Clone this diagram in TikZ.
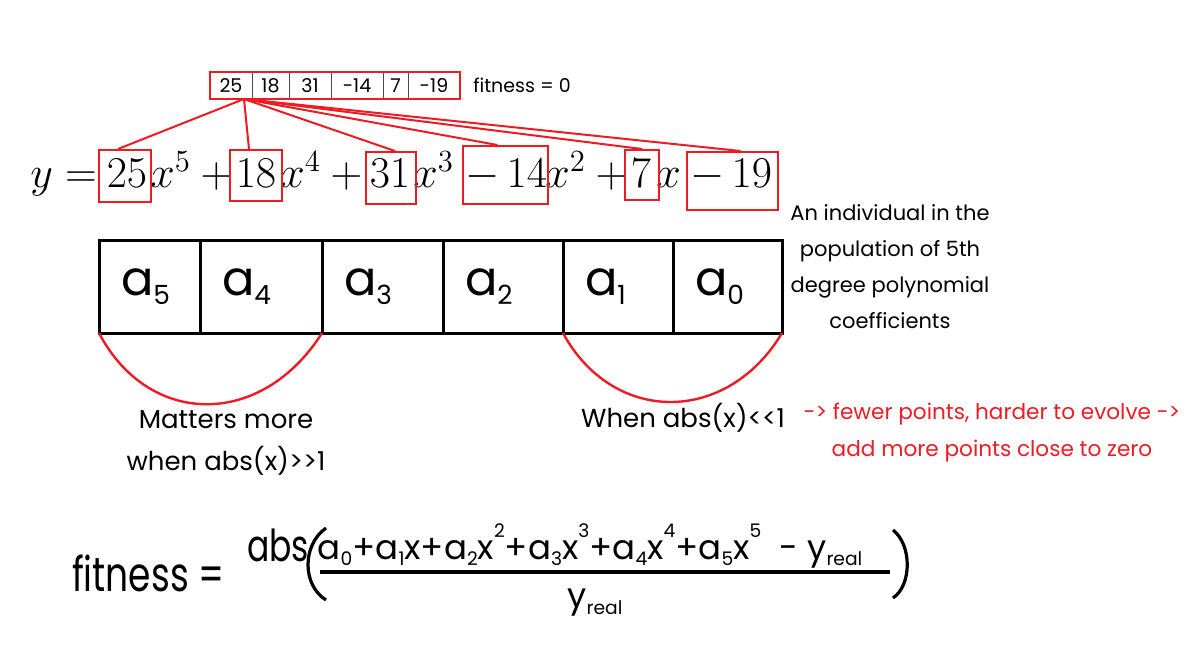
\RequirePackage{fix-cm}
\documentclass[tikz,border=0pt]{standalone}
\usepackage{fontspec}
\newfontfamily\hand{Poppins}
\newfontfamily\handnarrow{Poppins}[FakeStretch=0.75]
\usetikzlibrary{positioning, fit}
\definecolor{paintred}{RGB}{237,28,36}
\newcommand\subdig[1]{\raisebox{-0.35ex}{\scalebox{0.55}{#1}}}
\newcommand\supdig[1]{\raisebox{1.15ex}{\scalebox{0.55}{#1}}}

\begin{document}
\begin{tikzpicture}[
  x=0.5pt, y=-0.5pt,
  topcell/.style={draw=black!70, line width=0.4pt, outer sep=0pt, minimum height=13.5pt, inner sep=0pt, font=\hand\fontsize{9.5}{10}\selectfont},
  coefbox/.style={draw=paintred, line width=1pt, inner sep=0pt},
  eqtext/.style={anchor=base, inner sep=0pt, font=\fontsize{22}{26}\selectfont},
  gridcell/.style={draw, line width=1.5pt, outer sep=0pt, minimum height=46.5pt, inner xsep=11pt, align=left, font=\hand\fontsize{24}{26}\selectfont},
  note/.style={align=center, font=\hand\fontsize{10.5}{18}\selectfont},
  redline/.style={draw=paintred, line width=1pt},
  bracearc/.style={draw=paintred, line width=1.2pt},
  penline/.style={line width=1.6pt}
]
\useasboundingbox (0,0) rectangle (1204,654);

% Chromosome on top
\node[topcell, minimum width=21pt, anchor=north west] (t25) at (210,72) {25};
\node[topcell, minimum width=18.5pt, right=0pt of t25] (t18) {18};
\node[topcell, minimum width=21pt, right=0pt of t18] (t31) {31};
\node[topcell, minimum width=26pt, right=0pt of t31] (t14) {-14};
\node[topcell, minimum width=12.5pt, right=0pt of t14] (t7) {7};
\node[topcell, minimum width=26pt, right=0pt of t7] (t19) {-19};
\node[draw=paintred, line width=1pt, inner sep=0pt, fit=(t25)(t19)] (tbox) {};
\node[right=6pt of tbox, inner sep=0pt, font=\hand\fontsize{9.5}{10}\selectfont] (tfit) {fitness = 0};

% Polynomial
\node[eqtext, anchor=base west] (ylhs) at (30,187) {$y =$};
\node[eqtext] (e25) at (127,187) {$25$};
\node[eqtext, anchor=base west] (p5) at (150,187) {$x^5 + {}$};
\node[eqtext] (e18) at (256,187) {$18$};
\node[eqtext, anchor=base west] (p4) at (280,187) {$x^4 + {}$};
\node[eqtext] (e31) at (390,187) {$31$};
\node[eqtext, anchor=base west] (p3) at (413,187) {$x^3$};
\node[eqtext] (e14) at (506,187) {$-\,14$};
\node[eqtext, anchor=base west] (p2) at (545,187) {$x^2 + {}$};
\node[eqtext] (e7) at (641,187) {$7$};
\node[eqtext, anchor=base west] (p1) at (656,187) {$x$};
\node[eqtext] (e19) at (731,187) {$-\,19$};

\node[coefbox, minimum width=26pt, minimum height=26pt] (b25) at (125,176) {};
\node[coefbox, minimum width=26pt, minimum height=25.5pt] (b18) at (256,175.5) {};
\node[coefbox, minimum width=25pt, minimum height=26pt] (b31) at (391,178) {};
\node[coefbox, minimum width=42.5pt, minimum height=29pt] (b14) at (505.5,175) {};
\node[coefbox, minimum width=17pt, minimum height=25pt] (b7) at (642,175) {};
\node[coefbox, minimum width=45.5pt, minimum height=29pt] (b19) at (732.5,181) {};

\coordinate (src) at ([xshift=-4pt]t25.south east);
\foreach \b/\dx in {b25/-3.5, b18/-3.5, b31/2, b14/-4, b7/0, b19/4} {
  \draw[redline] (src) -- ([xshift=\dx pt]\b.north);
}

% Coefficient grid
\node[gridcell, text width=28.5pt, anchor=north west] (g5) at (99,240) {a\subdig{5}};
\node[gridcell, text width=39pt, right=0pt of g5] (g4) {a\subdig{4}};
\node[gridcell, text width=38.5pt, right=0pt of g4] (g3) {a\subdig{3}};
\node[gridcell, text width=38pt, right=0pt of g3] (g2) {a\subdig{2}};
\node[gridcell, text width=33pt, right=0pt of g2] (g1) {a\subdig{1}};
\node[gridcell, text width=32.5pt, right=0pt of g1] (g0) {a\subdig{0}};

\node[note] (desc) at (890,267) {An individual in the\\population of 5th\\degree polynomial\\coefficients};

\draw[bracearc] (g5.south west) .. controls +(50,95) and +(-60,95) .. (g4.south east);
\draw[bracearc] (g1.south west) .. controls +(50,92) and +(-55,92) .. (g0.south east);

\node[align=center, font=\hand\fontsize{13}{21}\selectfont] (matters) at (226,443) {Matters more\\when abs(x)>>1};
\node[font=\hand\fontsize{13}{15}\selectfont] (whenlt) at (683,418) {When abs(x)<<1};
\node[align=center, text=paintred, font=\hand\fontsize{10.8}{18.5}\selectfont] (advice) at (992,433) {-> fewer points, harder to evolve ->\\add more points close to zero};

% Fitness formula
\node[anchor=west, font=\handnarrow\fontsize{24}{26}\selectfont] (fitl) at (65,573) {fitness =};
\node[font=\handnarrow\fontsize{22}{24}\selectfont] (absw) at (278,545) {abs};
\node[font=\hand\fontsize{17}{19}\selectfont] (numer) at (590,546) {a\subdig{0}+a\subdig{1}x+a\subdig{2}x\supdig{2}+a\subdig{3}x\supdig{3}+a\subdig{4}x\supdig{4}+a\subdig{5}x\supdig{5} \ - y\subdig{real}};
\node[font=\hand\fontsize{17}{19}\selectfont] (denom) at (595,603) {y\subdig{real}};
\draw[penline] (320,572) -- (890,572);
\draw[penline] (326,528) .. controls (302,545) and (302,585) .. (326,600);
\draw[penline] (893,530) .. controls (912,545) and (912,585) .. (893,598);

\end{tikzpicture}
\end{document}
